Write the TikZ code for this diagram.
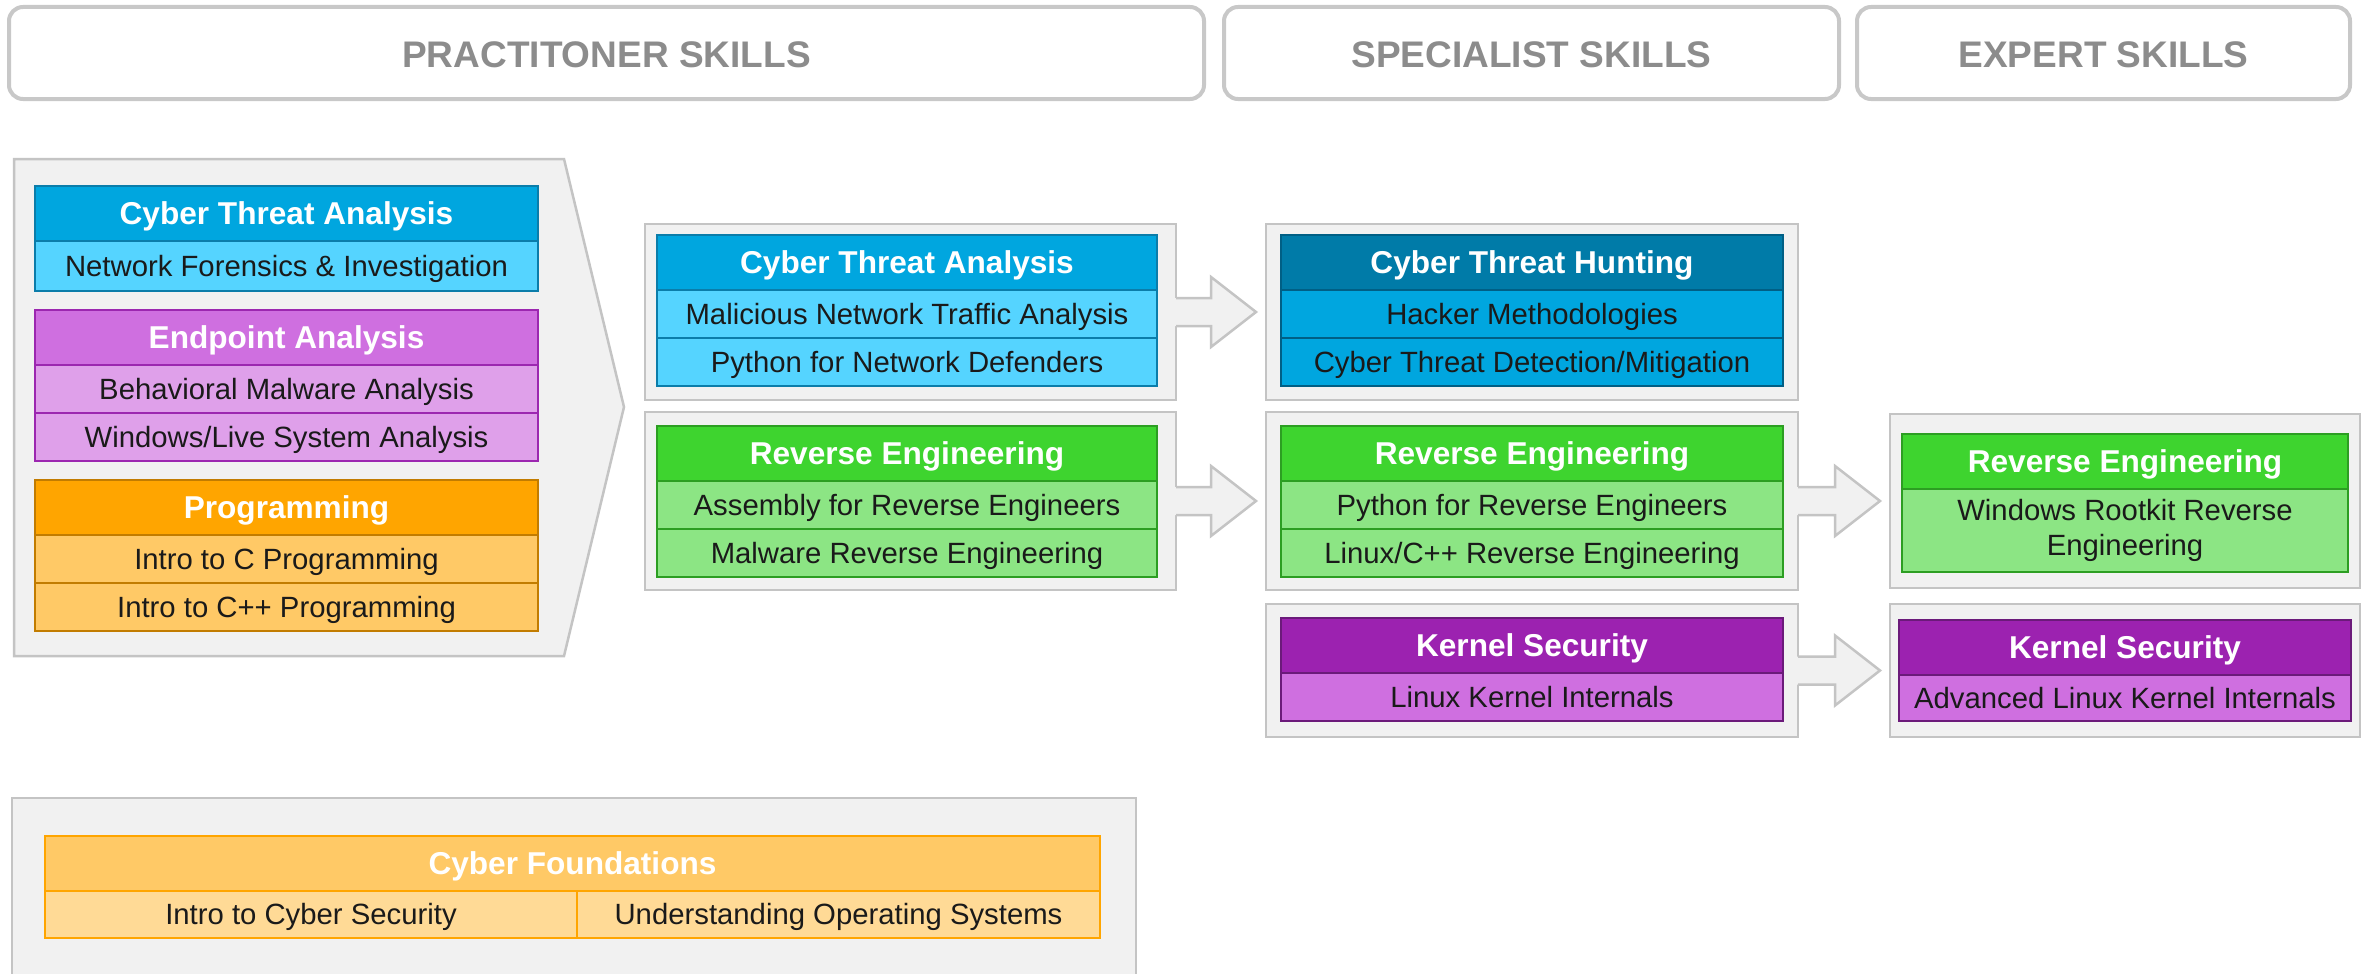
\documentclass[tikz,border=0pt]{standalone}
\usepackage{fontspec}
\setmainfont{Liberation Sans}
\usetikzlibrary{positioning,calc}

\definecolor{grpfill}{HTML}{F1F1F1}
\definecolor{grpline}{HTML}{C4C4C4}
\definecolor{ttlline}{HTML}{C8C8C8}
\definecolor{ttltext}{HTML}{8C8C8C}
\definecolor{subtext}{HTML}{1A1A1A}
\definecolor{ctaHead}{HTML}{00A6DF}
\definecolor{ctaSub}{HTML}{55D4FF}
\definecolor{ctaLine}{HTML}{0B7DAA}
\definecolor{cthHead}{HTML}{007BA8}
\definecolor{cthLine}{HTML}{005F85}
\definecolor{epHead}{HTML}{CF6FE0}
\definecolor{epSub}{HTML}{DFA0EA}
\definecolor{epLine}{HTML}{9C27B0}
\definecolor{progHead}{HTML}{FFA500}
\definecolor{progSub}{HTML}{FFC966}
\definecolor{progLine}{HTML}{C27C00}
\definecolor{reHead}{HTML}{3ED42F}
\definecolor{reSub}{HTML}{8CE584}
\definecolor{reLine}{HTML}{2C9E22}
\definecolor{ksHead}{HTML}{9C22B0}
\definecolor{ksSub}{HTML}{CF6FE0}
\definecolor{ksLine}{HTML}{6B1A7A}
\definecolor{cfHead}{HTML}{FFC966}
\definecolor{cfSub}{HTML}{FFDA96}
\definecolor{cfLine}{HTML}{FFA500}

% block arrow from one group box to the next
\newcommand{\skillarrow}[2]{%
  \coordinate (tip) at ($(#2.west |- #1.east)+(-10,0)$);
  \fill[grpfill] ($(#1.east)+(-3,-14)$) -- ($(tip)+(-45,-14)$) -- ($(tip)+(-45,-35)$) -- (tip)
    -- ($(tip)+(-45,35)$) -- ($(tip)+(-45,14)$) -- ($(#1.east)+(-3,14)$) -- cycle;
  \draw[grpline, line width=2.5pt] ($(#1.east)+(0,-14)$) -- ($(tip)+(-45,-14)$) -- ($(tip)+(-45,-35)$) -- (tip)
    -- ($(tip)+(-45,35)$) -- ($(tip)+(-45,14)$) -- ($(#1.east)+(0,14)$);
}

\begin{document}
\begin{tikzpicture}[x=1pt, y=-1pt,
				title/.style={draw=ttlline, line width=4pt, rounded corners=14pt, fill=white, text=ttltext, font=\fontsize{37}{44}\selectfont\bfseries, inner sep=0pt, outer sep=0pt, anchor=north west, text height=28pt, text depth=0pt},
				group/.style={draw=grpline, fill=grpfill, line width=2.5pt, inner sep=0pt, outer sep=0pt, anchor=north west},
				head/.style={line width=1.6pt, minimum height=55pt, inner sep=0pt, outer sep=0pt, text=white, font=\fontsize{31.6}{38}\selectfont\bfseries, anchor=north west, text height=26pt, text depth=4pt},
				course/.style={line width=1.6pt, minimum height=48pt, inner sep=0pt, outer sep=0pt, text=subtext, font=\fontsize{29.3}{35}\selectfont, text height=24pt, text depth=4pt},
				cta/.style={fill=ctaHead, draw=ctaLine},
				ctasub/.style={fill=ctaSub, draw=ctaLine},
				cth/.style={fill=cthHead, draw=cthLine},
				cthsub/.style={fill=ctaHead, draw=cthLine},
				ep/.style={fill=epHead, draw=epLine},
				epsub/.style={fill=epSub, draw=epLine},
				prog/.style={fill=progHead, draw=progLine},
				progsub/.style={fill=progSub, draw=progLine},
				re/.style={fill=reHead, draw=reLine},
				resub/.style={fill=reSub, draw=reLine},
				ks/.style={fill=ksHead, draw=ksLine},
				kssub/.style={fill=ksSub, draw=ksLine},
				cf/.style={fill=cfHead, draw=cfLine},
				cfsub/.style={fill=cfSub, draw=cfLine}
			]
			\useasboundingbox[fill=white] (0,0) rectangle (2369,974);

			% skill levels
			\node[title, minimum width=1195pt, minimum height=92pt] (tprac) at (9,7) {PRACTITONER SKILLS};
			\node[title, minimum width=615pt, minimum height=92pt] (tspec) at (1224,7) {SPECIALIST SKILLS};
			\node[title, minimum width=493pt, minimum height=92pt] (texp) at (1857,7) {EXPERT SKILLS};

			% practitioner courses
			\draw[grpline, fill=grpfill, line width=2.5pt] (14,159) -- (564,159) -- (624,407) -- (564,656) -- (14,656) -- cycle;
			\begin{scope}[nodes={minimum width=503pt}]
			\node[head, cta] (lcta) at (35,186) {Cyber Threat Analysis};
			\node[course, ctasub, minimum height=50pt] (lcta1) [below=0pt of lcta] {Network Forensics \& Investigation};
			\node[head, ep] (lep) at (35,310) {Endpoint Analysis};
			\node[course, epsub] (lep1) [below=0pt of lep] {Behavioral Malware Analysis};
			\node[course, epsub] (lep2) [below=0pt of lep1] {Windows/Live System Analysis};
			\node[head, prog] (lprog) at (35,480) {Programming};
			\node[course, progsub] (lprog1) [below=0pt of lprog] {Intro to C Programming};
			\node[course, progsub] (lprog2) [below=0pt of lprog1] {Intro to C++ Programming};
			\end{scope}

			\node[group, minimum width=531pt, minimum height=176pt] (gmcta) at (645,224) {};
			\node[group, minimum width=531pt, minimum height=178pt] (gmre) at (645,412) {};
			\begin{scope}[nodes={minimum width=500pt}]
			\node[head, cta] (mcta) at (657,235) {Cyber Threat Analysis};
			\node[course, ctasub] (mcta1) [below=0pt of mcta] {Malicious Network Traffic Analysis};
			\node[course, ctasub] (mcta2) [below=0pt of mcta1] {Python for Network Defenders};
			\node[head, re] (mre) at (657,426) {Reverse Engineering};
			\node[course, resub] (mre1) [below=0pt of mre] {Assembly for Reverse Engineers};
			\node[course, resub] (mre2) [below=0pt of mre1] {Malware Reverse Engineering};
			\end{scope}

			% specialist courses
			\node[group, minimum width=532pt, minimum height=176pt] (gscth) at (1266,224) {};
			\node[group, minimum width=532pt, minimum height=178pt] (gsre) at (1266,412) {};
			\node[group, minimum width=532pt, minimum height=133pt] (gsks) at (1266,604) {};
			\begin{scope}[nodes={minimum width=502pt}]
			\node[head, cth] (scth) at (1281,235) {Cyber Threat Hunting};
			\node[course, cthsub] (scth1) [below=0pt of scth] {Hacker Methodologies};
			\node[course, cthsub] (scth2) [below=0pt of scth1] {Cyber Threat Detection/Mitigation};
			\node[head, re] (sre) at (1281,426) {Reverse Engineering};
			\node[course, resub] (sre1) [below=0pt of sre] {Python for Reverse Engineers};
			\node[course, resub] (sre2) [below=0pt of sre1] {Linux/C++ Reverse Engineering};
			\node[head, ks] (sks) at (1281,618) {Kernel Security};
			\node[course, kssub] (sks1) [below=0pt of sks] {Linux Kernel Internals};
			\end{scope}

			% expert courses
			\node[group, minimum width=470pt, minimum height=174pt] (gere) at (1890,414) {};
			\node[group, minimum width=470pt, minimum height=133pt] (geks) at (1890,604) {};
			\node[head, re, minimum width=446pt] (ere) at (1902,434) {Reverse Engineering};
			\node[course, resub, minimum width=446pt, minimum height=83pt, align=center, text height=, text depth=] (ere1) [below=0pt of ere] {Windows Rootkit Reverse\\Engineering};
			\node[head, ks, minimum width=452pt] (eks) at (1899,620) {Kernel Security};
			\node[course, kssub, minimum width=452pt, minimum height=46pt] (eks1) [below=0pt of eks] {Advanced Linux Kernel Internals};

			% foundations
			\node[group, minimum width=1124pt, minimum height=200pt] (gfound) at (12,798) {};
			\node[head, cf, minimum width=1055pt] (fcf) at (45,836) {Cyber Foundations};
			\node[course, cfsub, minimum width=532pt, minimum height=47pt, anchor=north west] (fcf1) at (fcf.south west) {Intro to Cyber Security};
			\node[course, cfsub, minimum width=523pt, minimum height=47pt, anchor=north west] (fcf2) at (fcf1.north east) {Understanding Operating Systems};

			% progression
			\skillarrow{gmcta}{gscth}
			\skillarrow{gmre}{gsre}
			\skillarrow{gsre}{gere}
			\skillarrow{gsks}{geks}
			\end{tikzpicture}
\end{document}
